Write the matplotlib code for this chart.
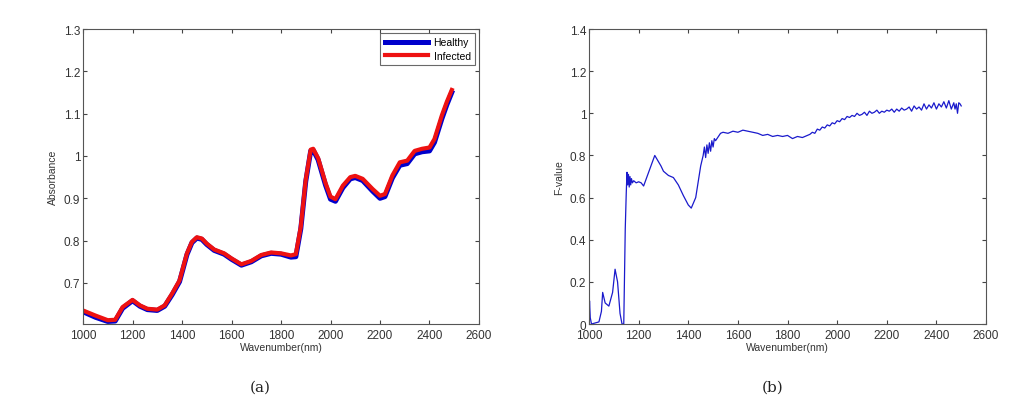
import numpy as np
import matplotlib.pyplot as plt

# (a) absorbance spectra
wl_a = [1000, 1050, 1100, 1130, 1160, 1200, 1230, 1260, 1300, 1330, 1360, 1390,
        1420, 1440, 1460, 1480, 1500, 1530, 1570, 1600, 1640, 1680, 1720, 1760,
        1800, 1840, 1860, 1880, 1900, 1920, 1930, 1950, 1980, 2000, 2020, 2050,
        2080, 2100, 2130, 2170, 2200, 2220, 2250, 2280, 2310, 2340, 2370, 2400,
        2420, 2450, 2470, 2490]
infected = [0.635, 0.623, 0.612, 0.613, 0.643, 0.660, 0.647, 0.639, 0.637, 0.647,
            0.675, 0.706, 0.770, 0.797, 0.808, 0.805, 0.793, 0.779, 0.770, 0.758,
            0.744, 0.752, 0.766, 0.772, 0.770, 0.765, 0.768, 0.833, 0.944, 1.015,
            1.017, 0.995, 0.936, 0.904, 0.898, 0.930, 0.950, 0.953, 0.946, 0.922,
            0.906, 0.910, 0.954, 0.985, 0.989, 1.012, 1.017, 1.020, 1.040, 1.096,
            1.128, 1.156]
healthy = [0.632, 0.619, 0.609, 0.610, 0.640, 0.658, 0.645, 0.637, 0.635, 0.645,
           0.672, 0.703, 0.767, 0.795, 0.806, 0.803, 0.791, 0.777, 0.768, 0.756,
           0.742, 0.750, 0.764, 0.770, 0.768, 0.761, 0.762, 0.828, 0.940, 1.012,
           1.014, 0.991, 0.931, 0.898, 0.893, 0.925, 0.946, 0.949, 0.942, 0.917,
           0.900, 0.904, 0.948, 0.978, 0.982, 1.005, 1.010, 1.012, 1.032, 1.088,
           1.121, 1.150]

# (b) F-value
wl_b = [1000, 1002, 1005, 1010, 1040, 1050, 1055, 1065, 1080, 1095, 1105, 1115,
        1125, 1133, 1140, 1146, 1150, 1153, 1156, 1159, 1162, 1165, 1168, 1171,
        1175, 1180, 1190, 1200, 1210, 1220, 1240, 1265, 1290, 1300, 1320, 1340,
        1360, 1380, 1400, 1412, 1430, 1450, 1460, 1465, 1470, 1475, 1480, 1485,
        1490, 1495, 1500, 1505, 1510, 1530, 1540, 1560, 1580, 1600, 1620, 1640,
        1660, 1680, 1700, 1720, 1740, 1760, 1780, 1800, 1820, 1840, 1860, 1880,
        1890, 1900, 1910, 1920, 1930, 1940, 1950, 1960, 1970, 1980, 1990, 2000,
        2010, 2020, 2030, 2040, 2050, 2060, 2070, 2080, 2090, 2100, 2110, 2120,
        2130, 2140, 2150, 2160, 2170, 2180, 2190, 2200, 2210, 2220, 2230, 2240,
        2250, 2260, 2270, 2280, 2290, 2300, 2310, 2320, 2330, 2340, 2350, 2360,
        2370, 2380, 2390, 2400, 2410, 2420, 2430, 2440, 2450, 2460, 2470, 2475,
        2480, 2485, 2490, 2495, 2500]
fval = [0.00, 0.11, 0.03, 0.00, 0.01, 0.06, 0.15, 0.10, 0.085, 0.15, 0.26, 0.20,
        0.05, 0.00, 0.00, 0.45, 0.62, 0.72, 0.66, 0.71, 0.65, 0.70, 0.66, 0.69,
        0.67, 0.68, 0.67, 0.675, 0.67, 0.655, 0.72, 0.80, 0.75, 0.725, 0.705, 0.695,
        0.66, 0.61, 0.565, 0.55, 0.60, 0.75, 0.80, 0.84, 0.79, 0.85, 0.81, 0.86,
        0.82, 0.87, 0.84, 0.88, 0.87, 0.905, 0.91, 0.905, 0.915, 0.91, 0.92, 0.915,
        0.91, 0.905, 0.895, 0.90, 0.89, 0.895, 0.89, 0.895, 0.88, 0.89, 0.885, 0.895,
        0.90, 0.91, 0.905, 0.925, 0.92, 0.935, 0.93, 0.945, 0.94, 0.955, 0.95, 0.965,
        0.96, 0.975, 0.97, 0.985, 0.98, 0.99, 0.985, 1.00, 0.99, 0.995, 1.005, 0.99,
        1.01, 1.00, 1.005, 1.015, 1.00, 1.01, 1.005, 1.015, 1.01, 1.02, 1.005, 1.02,
        1.01, 1.025, 1.015, 1.02, 1.03, 1.01, 1.035, 1.02, 1.03, 1.015, 1.045, 1.02,
        1.04, 1.025, 1.05, 1.02, 1.045, 1.03, 1.055, 1.025, 1.06, 1.02, 1.05, 1.02,
        1.045, 1.00, 1.05, 1.045, 1.035]

plt.rcParams['font.family'] = ['Liberation Sans', 'DejaVu Sans']
txt = '#333333'

fig = plt.figure(figsize=(10.35, 4.1), dpi=100)
ax1 = fig.add_axes([0.0802, 0.2073, 0.3826, 0.7195])
ax2 = fig.add_axes([0.5691, 0.2073, 0.3836, 0.7195])

ax1.plot(wl_a, healthy, color='#0000cc', lw=3.6, label='Healthy')
ax1.plot(wl_a, infected, color='#ee1111', lw=3.0, label='Infected')
ax1.set_xlim(1000, 2600)
ax1.set_ylim(0.603, 1.3)
ax1.set_yticks([0.7, 0.8, 0.9, 1.0, 1.1, 1.2, 1.3])
ax1.set_yticklabels(['0.7', '0.8', '0.9', '1', '1.1', '1.2', '1.3'])
ax1.set_ylabel('Absorbance', fontsize=7.5, color=txt, labelpad=4)
leg = ax1.legend(loc='upper right', fontsize=7.5, handlelength=4.2, frameon=True,
                 fancybox=False, edgecolor='#444444', borderaxespad=0.4,
                 labelspacing=0.35, handletextpad=0.5)
leg.get_frame().set_linewidth(0.8)

ax2.plot(wl_b, fval, color='#1a1acc', lw=0.9)
ax2.set_xlim(1000, 2600)
ax2.set_ylim(0, 1.4)
ax2.set_yticks([0, 0.2, 0.4, 0.6, 0.8, 1.0, 1.2, 1.4])
ax2.set_yticklabels(['0', '0.2', '0.4', '0.6', '0.8', '1', '1.2', '1.4'])
ax2.set_ylabel('F-value', fontsize=7.5, color=txt, labelpad=4)

for ax in (ax1, ax2):
    ax.set_xticks(range(1000, 2601, 200))
    ax.set_xlabel('Wavenumber(nm)', fontsize=7.5, color=txt, labelpad=1)
    ax.tick_params(direction='in', top=True, right=True, labelsize=8.5,
                   colors='#444444', labelcolor=txt, length=3, pad=2)
    ax.tick_params(axis='x', pad=3.5)
    for s in ax.spines.values():
        s.set_color('#555555')
        s.set_linewidth(0.8)

fig.text(0.2512, 0.045, '(a)', fontsize=11, family='DejaVu Serif', ha='center', color='#222222')
fig.text(0.7464, 0.045, '(b)', fontsize=11, family='DejaVu Serif', ha='center', color='#222222')

fig.savefig('out.png', dpi=100)
